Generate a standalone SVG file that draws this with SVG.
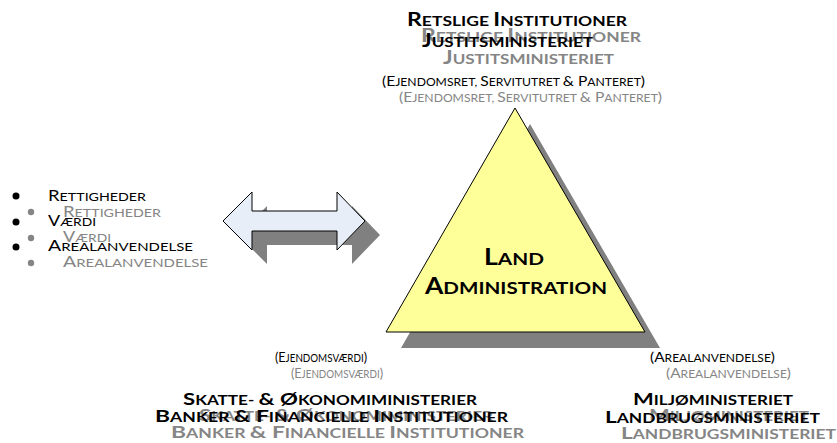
<svg xmlns="http://www.w3.org/2000/svg" width="837" height="443" viewBox="0 0 837 443">
<style>
text{font-family:Lato,"Open Sans","DejaVu Sans",sans-serif}
.b{font-weight:bold}
.k{fill:#000}
.g{fill:#858585}
.h{font-size:14px}.h .c{font-size:18.5px}
.p{font-size:10.5px}.p .c{font-size:13.5px}
.s{font-size:13.5px}.s .c{font-size:17.5px}
.l{font-size:11.5px}.l .c{font-size:15px}
.t{font-size:17.5px}.t .c{font-size:22.5px}
.shadow{fill:#808080}
</style>
<rect width="837" height="443" fill="#fff"/>
<g id="top-label">
<text class="g b h" x="421" y="42" textLength="220" lengthAdjust="spacingAndGlyphs"><tspan class="c">R</tspan>ETSLIGE <tspan class="c">I</tspan>NSTITUTIONER</text>
<text class="g b h" x="443" y="64" textLength="171" lengthAdjust="spacingAndGlyphs"><tspan class="c">J</tspan>USTITSMINISTERIET</text>
<text class="g p" x="399" y="102" textLength="263" lengthAdjust="spacingAndGlyphs"><tspan class="c">(E</tspan>JENDOMSRET, <tspan class="c">S</tspan>ERVITUTRET <tspan class="c">&amp; P</tspan>ANTERET<tspan class="c">)</tspan></text>
<text class="k b h" x="407" y="26" textLength="220" lengthAdjust="spacingAndGlyphs"><tspan class="c">R</tspan>ETSLIGE <tspan class="c">I</tspan>NSTITUTIONER</text>
<text class="k b h" x="422" y="47" textLength="171" lengthAdjust="spacingAndGlyphs"><tspan class="c">J</tspan>USTITSMINISTERIET</text>
<text class="k p" x="382" y="86" textLength="263" lengthAdjust="spacingAndGlyphs"><tspan class="c">(E</tspan>JENDOMSRET, <tspan class="c">S</tspan>ERVITUTRET <tspan class="c">&amp; P</tspan>ANTERET<tspan class="c">)</tspan></text>
</g>
<g id="bullets">
<circle class="g" cx="31" cy="212" r="3.2"/>
<circle class="g" cx="31" cy="238" r="3.2"/>
<circle class="g" cx="31" cy="263" r="3.2"/>
<text class="g l" x="63" y="217" textLength="98" lengthAdjust="spacingAndGlyphs"><tspan class="c">R</tspan>ETTIGHEDER</text>
<text class="g l" x="63" y="242" textLength="48" lengthAdjust="spacingAndGlyphs"><tspan class="c">V</tspan>ÆRDI</text>
<text class="g l" x="63" y="267" textLength="145" lengthAdjust="spacingAndGlyphs"><tspan class="c">A</tspan>REALANVENDELSE</text>
<circle class="k" cx="16" cy="196" r="3.5"/>
<circle class="k" cx="16" cy="222" r="3.5"/>
<circle class="k" cx="16" cy="247" r="3.5"/>
<text class="k l" x="48" y="201" textLength="98" lengthAdjust="spacingAndGlyphs"><tspan class="c">R</tspan>ETTIGHEDER</text>
<text class="k l" x="48" y="226" textLength="48" lengthAdjust="spacingAndGlyphs"><tspan class="c">V</tspan>ÆRDI</text>
<text class="k l" x="48" y="251" textLength="145" lengthAdjust="spacingAndGlyphs"><tspan class="c">A</tspan>REALANVENDELSE</text>
</g>
<g id="connectors">
<polygon class="shadow" transform="translate(15,14)" points="223,221 252,192 252,211 337,211 337,192 365,221 337,250 337,231 252,231 252,250"/>
<polygon fill="#E8EEF8" stroke="#000" stroke-width="1" points="223,221 252,192 252,211 337,211 337,192 365,221 337,250 337,231 252,231 252,250"/>
</g>
<g id="land-administration">
<polygon class="shadow" points="530,124 660,348 401,348"/>
<polygon fill="#FFFF99" stroke="#000" stroke-width="1" points="515,108 645,332 386,332"/>
<text class="k b t" x="484" y="265" textLength="60" lengthAdjust="spacingAndGlyphs"><tspan class="c">L</tspan>AND</text>
<text class="k b t" x="425" y="294" textLength="182" lengthAdjust="spacingAndGlyphs"><tspan class="c">A</tspan>DMINISTRATION</text>
</g>
<g id="bottom-left-label">
<text class="g p" x="291" y="378" textLength="92" lengthAdjust="spacingAndGlyphs"><tspan class="c">(E</tspan>JENDOMSVÆRDI<tspan class="c">)</tspan></text>
<text class="g b s" x="199" y="421" textLength="294" lengthAdjust="spacingAndGlyphs"><tspan class="c">S</tspan>KATTE- <tspan class="c">&amp; Ø</tspan>KONOMIMINISTERIER</text>
<text class="g b s" x="171" y="438" textLength="353" lengthAdjust="spacingAndGlyphs"><tspan class="c">B</tspan>ANKER <tspan class="c">&amp; F</tspan>INANCIELLE <tspan class="c">I</tspan>NSTITUTIONER</text>
<text class="k p" x="275" y="362" textLength="92" lengthAdjust="spacingAndGlyphs"><tspan class="c">(E</tspan>JENDOMSVÆRDI<tspan class="c">)</tspan></text>
<text class="k b s" x="183" y="405" textLength="294" lengthAdjust="spacingAndGlyphs"><tspan class="c">S</tspan>KATTE- <tspan class="c">&amp; Ø</tspan>KONOMIMINISTERIER</text>
<text class="k b s" x="155" y="422" textLength="353" lengthAdjust="spacingAndGlyphs"><tspan class="c">B</tspan>ANKER <tspan class="c">&amp; F</tspan>INANCIELLE <tspan class="c">I</tspan>NSTITUTIONER</text>
</g>
<g id="bottom-right-label">
<text class="g p" x="666" y="378" textLength="125" lengthAdjust="spacingAndGlyphs"><tspan class="c">(A</tspan>REALANVENDELSE<tspan class="c">)</tspan></text>
<text class="g b s" x="649" y="421" textLength="160" lengthAdjust="spacingAndGlyphs"><tspan class="c">M</tspan>ILJØMINISTERIET</text>
<text class="g b s" x="621" y="439" textLength="215" lengthAdjust="spacingAndGlyphs"><tspan class="c">L</tspan>ANDBRUGSMINISTERIET</text>
<text class="k p" x="650" y="362" textLength="125" lengthAdjust="spacingAndGlyphs"><tspan class="c">(A</tspan>REALANVENDELSE<tspan class="c">)</tspan></text>
<text class="k b s" x="633" y="405" textLength="160" lengthAdjust="spacingAndGlyphs"><tspan class="c">M</tspan>ILJØMINISTERIET</text>
<text class="k b s" x="605" y="423" textLength="215" lengthAdjust="spacingAndGlyphs"><tspan class="c">L</tspan>ANDBRUGSMINISTERIET</text>
</g>
</svg>
